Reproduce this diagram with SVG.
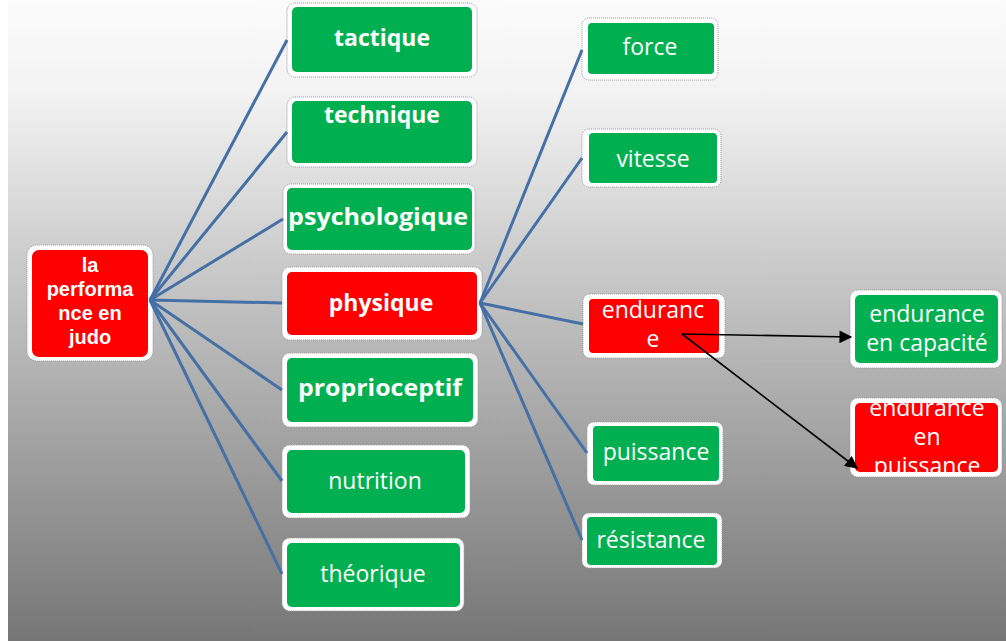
<svg xmlns="http://www.w3.org/2000/svg" width="1006" height="641" viewBox="0 0 1006 641">
<defs>
<linearGradient id="bg" x1="0" y1="0" x2="0" y2="1">
<stop offset="0" stop-color="#fbfbfb"/>
<stop offset="0.15" stop-color="#f2f2f2"/>
<stop offset="0.5" stop-color="#bdbdbd"/>
<stop offset="1" stop-color="#767676"/>
</linearGradient>
<marker id="ah" viewBox="0 0 10 10" refX="9" refY="5" markerWidth="9" markerHeight="8" orient="auto" markerUnits="strokeWidth">
<path d="M0,0 L10,5 L0,10 z" fill="#000"/>
</marker>
<clipPath id="clipEP"><rect x="855" y="403" width="143" height="69"/></clipPath>
</defs>
<style>
.outer{fill:#fff;stroke:#9a9a9a;stroke-width:1;stroke-dasharray:1 1}
.g{fill:#00b050}
.r{fill:#ff0000}
.tb{fill:#fff;font-family:"Open Sans","Liberation Sans",sans-serif;font-weight:bold;font-size:23px;text-anchor:middle}
.tr{fill:#fff;font-family:"Open Sans","Liberation Sans",sans-serif;font-size:23px;text-anchor:middle}
.rt{fill:#fff;font-family:"Liberation Sans",Arial,sans-serif;font-weight:bold;font-size:20px;text-anchor:middle}
.conn{fill:none;stroke:#4470a6;stroke-width:3}
.arr{fill:none;stroke:#000;stroke-width:1.6;marker-end:url(#ah)}
</style>
<rect x="0" y="0" width="1006" height="641" fill="#fff"/>
<rect x="8" y="0" width="998" height="641" fill="url(#bg)"/>

<g id="root">
<rect class="outer" x="27" y="245" width="126" height="116" rx="10"/>
<rect class="r" x="32" y="250" width="116" height="107" rx="7"/>
<text class="rt" x="90" y="272">la</text>
<text class="rt" x="90" y="296">performa</text>
<text class="rt" x="90" y="320">nce en</text>
<text class="rt" x="90" y="344">judo</text>
</g>

<g id="tactique">
<rect class="outer" x="287" y="3" width="190" height="74" rx="8"/>
<rect class="g" x="292" y="7" width="180" height="65" rx="5"/>
<text class="tb" x="382" y="46">tactique</text>
</g>
<g id="technique">
<rect class="outer" x="287" y="97" width="190" height="70" rx="8"/>
<rect class="g" x="292" y="101" width="180" height="62" rx="5"/>
<text class="tb" x="382" y="123">technique</text>
</g>
<g id="psychologique">
<rect class="outer" x="283" y="184" width="192" height="70" rx="8"/>
<rect class="g" x="287" y="188" width="185" height="62" rx="5"/>
<text class="tb" x="378" y="225" textLength="180" lengthAdjust="spacingAndGlyphs">psychologique</text>
</g>
<g id="physique">
<rect class="outer" x="282" y="267" width="200" height="73" rx="8"/>
<rect class="r" x="287" y="272" width="190" height="63" rx="5"/>
<text class="tb" x="381" y="311">physique</text>
</g>
<g id="proprioceptif">
<rect class="outer" x="282" y="353" width="196" height="74" rx="8"/>
<rect class="g" x="287" y="358" width="186" height="64" rx="5"/>
<text class="tb" x="380" y="396" textLength="164" lengthAdjust="spacingAndGlyphs">proprioceptif</text>
</g>
<g id="nutrition">
<rect class="outer" x="282" y="445" width="188" height="73" rx="8"/>
<rect class="g" x="287" y="450" width="178" height="63" rx="5"/>
<text class="tr" x="375" y="489">nutrition</text>
</g>
<g id="theorique">
<rect class="outer" x="282" y="538" width="182" height="73" rx="8"/>
<rect class="g" x="287" y="543" width="173" height="64" rx="5"/>
<text class="tr" x="373" y="582">théorique</text>
</g>

<g id="force">
<rect class="outer" x="582" y="18" width="136" height="62" rx="7"/>
<rect class="g" x="588" y="23" width="126" height="51" rx="4"/>
<text class="tr" x="650" y="55">force</text>
</g>
<g id="vitesse">
<rect class="outer" x="582" y="129" width="139" height="58" rx="7"/>
<rect class="g" x="589" y="133" width="128" height="50" rx="4"/>
<text class="tr" x="653" y="167">vitesse</text>
</g>
<g id="endurance">
<rect class="outer" x="583" y="294" width="142" height="64" rx="7"/>
<rect class="r" x="589" y="299" width="130" height="54" rx="4"/>
<text class="tr" x="653" y="318">enduranc</text>
<text class="tr" x="653" y="347">e</text>
</g>
<g id="puissance">
<rect class="outer" x="587" y="422" width="136" height="63" rx="7"/>
<rect class="g" x="593" y="426" width="126" height="55" rx="4"/>
<text class="tr" x="656" y="460">puissance</text>
</g>
<g id="resistance">
<rect class="outer" x="582" y="513" width="140" height="55" rx="7"/>
<rect class="g" x="587" y="517" width="130" height="48" rx="4"/>
<text class="tr" x="651" y="548">résistance</text>
</g>

<g id="endurance-capacite">
<rect class="outer" x="850" y="290" width="152" height="78" rx="8"/>
<rect class="g" x="855" y="295" width="143" height="68" rx="5"/>
<text class="tr" x="927" y="322">endurance</text>
<text class="tr" x="927" y="351">en capacité</text>
</g>
<g id="endurance-puissance">
<rect class="outer" x="850" y="398" width="152" height="79" rx="8"/>
<rect class="r" x="855" y="403" width="143" height="69" rx="5"/>
<g clip-path="url(#clipEP)">
<text class="tr" x="927" y="416">endurance</text>
<text class="tr" x="927" y="445">en</text>
<text class="tr" x="927" y="474">puissance</text>
</g>
</g>

<g id="connectors">
<path class="conn" d="M150,300 L287,40"/>
<path class="conn" d="M150,300 L287,132"/>
<path class="conn" d="M150,300 L283,219"/>
<path class="conn" d="M150,300 L282,303"/>
<path class="conn" d="M150,300 L282,390"/>
<path class="conn" d="M150,300 L282,481"/>
<path class="conn" d="M150,300 L282,574"/>
<path class="conn" d="M480,303 L582,50"/>
<path class="conn" d="M480,303 L582,158"/>
<path class="conn" d="M480,303 L583,324"/>
<path class="conn" d="M480,303 L587,453"/>
<path class="conn" d="M480,303 L582,540"/>
<path class="arr" d="M682,334 L851,337"/>
<path class="arr" d="M682,334 L857,468"/>
</g>
</svg>
